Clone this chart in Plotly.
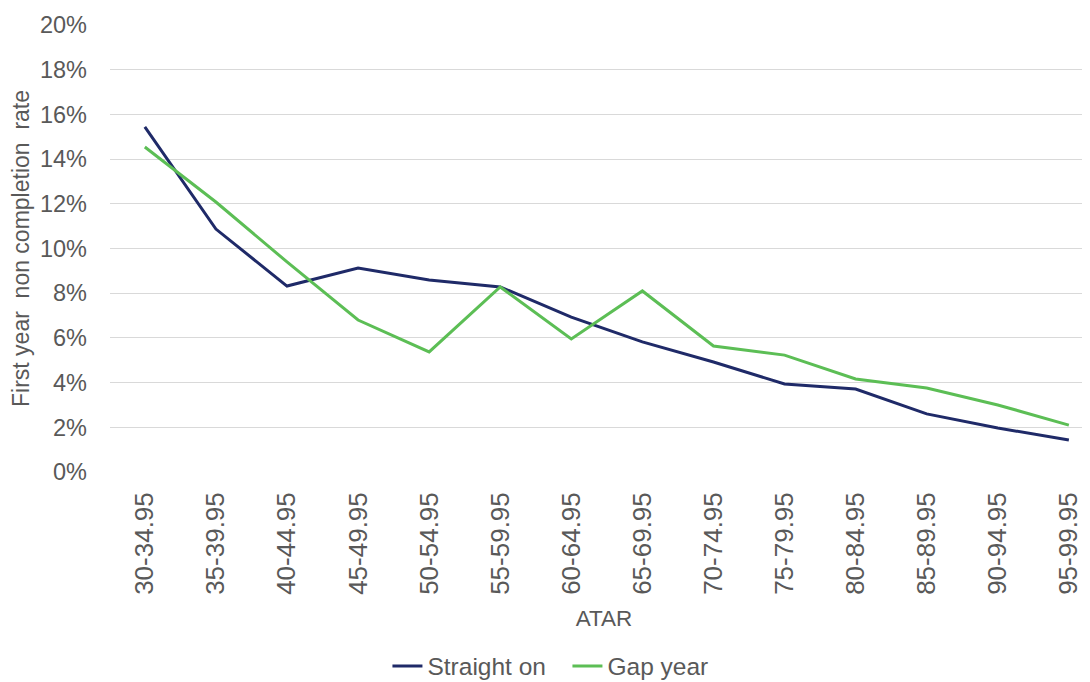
import plotly.graph_objects as go

categories = ["30-34.95", "35-39.95", "40-44.95", "45-49.95", "50-54.95", "55-59.95",
              "60-64.95", "65-69.95", "70-74.95", "75-79.95", "80-84.95", "85-89.95",
              "90-94.95", "95-99.95"]
straight_on = [0.1544, 0.1087, 0.0832, 0.0913, 0.0859, 0.0828, 0.0693, 0.0582,
               0.0492, 0.0394, 0.0371, 0.0260, 0.0197, 0.0143]
gap_year = [0.1454, 0.1208, 0.0940, 0.0680, 0.0537, 0.0828, 0.0595, 0.0810,
            0.0564, 0.0523, 0.0416, 0.0376, 0.0300, 0.0210]
y_ticks = [0, 0.02, 0.04, 0.06, 0.08, 0.10, 0.12, 0.14, 0.16, 0.18, 0.20]

FONT = "Liberation Sans, Arial, sans-serif"
GREY = "#595959"

fig = go.Figure()
fig.add_trace(go.Scatter(x=list(range(len(categories))), y=straight_on, mode="lines",
                         name="Straight on", line=dict(color="#1F2A68", width=3)))
fig.add_trace(go.Scatter(x=list(range(len(categories))), y=gap_year, mode="lines",
                         name="Gap year", line=dict(color="#5CBE55", width=3)))

fig.update_layout(
    width=1090, height=682,
    margin=dict(l=102, r=0, t=17, b=218, autoexpand=False),
    plot_bgcolor="white", paper_bgcolor="white",
    font=dict(family=FONT, size=23, color=GREY),
    showlegend=True,
    legend=dict(orientation="h", x=0.463, xanchor="center",
                y=-0.434, yanchor="middle", entrywidth=135, entrywidthmode="pixels",
                font=dict(size=24.5, color=GREY), itemwidth=30, tracegroupgap=0),
    xaxis=dict(
        tickmode="array", tickvals=list(range(len(categories))), ticktext=categories,
        range=[-0.49, 13.41], tickangle=-90, showgrid=False, zeroline=False,
        showline=False, ticks="", tickfont=dict(size=26, color=GREY), ticklabelstandoff=14,
        title=dict(text="ATAR", font=dict(size=22.5, color=GREY), standoff=16),
    ),
    yaxis=dict(
        range=[0, 0.2], tickvals=y_ticks, tickformat=".0%",
        showgrid=True, gridcolor="#D9D9D9", gridwidth=1, zeroline=False,
        showline=False, ticks="", tickfont=dict(size=23.5, color=GREY), ticklabelstandoff=22,
        title=dict(text="First year  non completion  rate", font=dict(size=23, color=GREY), standoff=6),
    ),
)

fig.write_html("out.html")
